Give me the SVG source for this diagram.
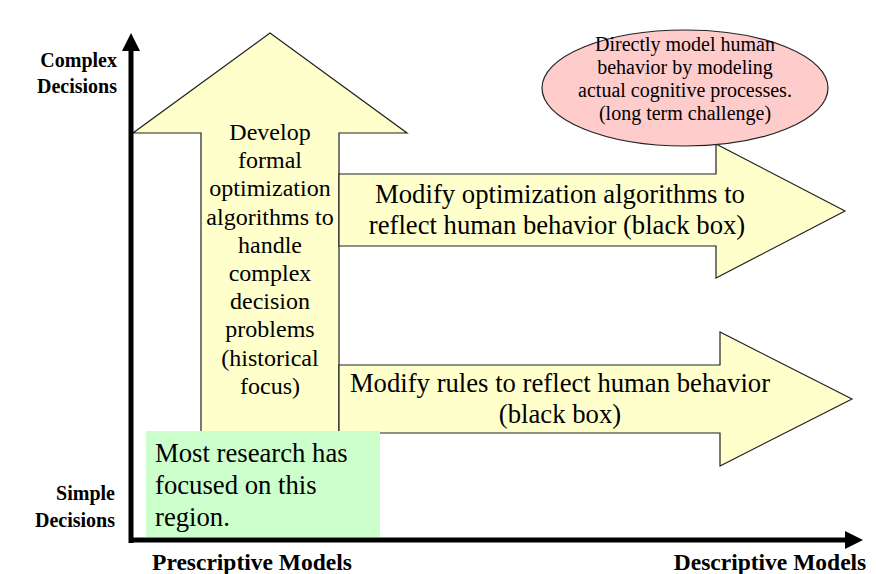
<svg xmlns="http://www.w3.org/2000/svg" width="876" height="574" viewBox="0 0 876 574">
<style>
.arrow{fill:#FFFFCC;stroke:#222;stroke-width:1.2}
.t{font-family:"Liberation Serif","Times New Roman",serif;fill:#000;text-anchor:middle}
.ax{font-family:"Liberation Serif","Times New Roman",serif;font-weight:bold;fill:#000}
.axis{stroke:#000;stroke-width:5;fill:none}
</style>
<rect width="876" height="574" fill="#fff"/>
<g id="up-arrow">
<polygon class="arrow" points="270,33 407,133 339,133 339,520 201,520 201,133 133,133"/>
<g class="t" font-size="24">
<text x="270" y="140">Develop</text>
<text x="270" y="168">formal</text>
<text x="270" y="196">optimization</text>
<text x="270" y="225">algorithms to</text>
<text x="270" y="253">handle</text>
<text x="270" y="281">complex</text>
<text x="270" y="309">decision</text>
<text x="270" y="337">problems</text>
<text x="270" y="366">(historical</text>
<text x="270" y="394">focus)</text>
</g>
</g>
<g id="upper-right-arrow">
<polygon class="arrow" points="339,174 716,174 716,144 845,211 716,278 716,246 339,246"/>
<g class="t" font-size="26.7">
<text x="560" y="203">Modify optimization algorithms to</text>
<text x="557" y="234">reflect human behavior (black box)</text>
</g>
</g>
<g id="lower-right-arrow">
<polygon class="arrow" points="339,365 720,365 720,332 852,399 720,466 720,433 339,433"/>
<g class="t" font-size="26.7">
<text x="560" y="392">Modify rules to reflect human behavior</text>
<text x="560" y="423">(black box)</text>
</g>
</g>
<g id="ellipse-node">
<ellipse cx="685" cy="88" rx="143" ry="58" fill="#FFCCCC" stroke="#222" stroke-width="1.2"/>
<g class="t" font-size="20">
<text x="685" y="51">Directly model human</text>
<text x="685" y="74">behavior by modeling</text>
<text x="685" y="97">actual cognitive processes.</text>
<text x="685" y="120">(long term challenge)</text>
</g>
</g>
<g id="green-box">
<rect x="146" y="431" width="234" height="106" fill="#CCFFCC"/>
<g font-family="Liberation Serif, Times New Roman, serif" font-size="26.7" fill="#000">
<text x="155" y="462">Most research has</text>
<text x="155" y="494">focused on this</text>
<text x="155" y="526">region.</text>
</g>
</g>
<g id="axes">
<line class="axis" x1="131" y1="543" x2="131" y2="48"/>
<polygon points="131,33 122,51 140,51" fill="#000"/>
<line class="axis" x1="129" y1="540" x2="848" y2="540"/>
<polygon points="863,540 845,531 845,549" fill="#000"/>
</g>
<g id="axis-labels" class="ax">
<text x="117" y="67" text-anchor="end" font-size="20">Complex</text>
<text x="117" y="93" text-anchor="end" font-size="20">Decisions</text>
<text x="115" y="500" text-anchor="end" font-size="20">Simple</text>
<text x="115" y="527" text-anchor="end" font-size="20">Decisions</text>
<text x="252" y="570" text-anchor="middle" font-size="23.5">Prescriptive Models</text>
<text x="770" y="570" text-anchor="middle" font-size="23.5">Descriptive Models</text>
</g>
</svg>
